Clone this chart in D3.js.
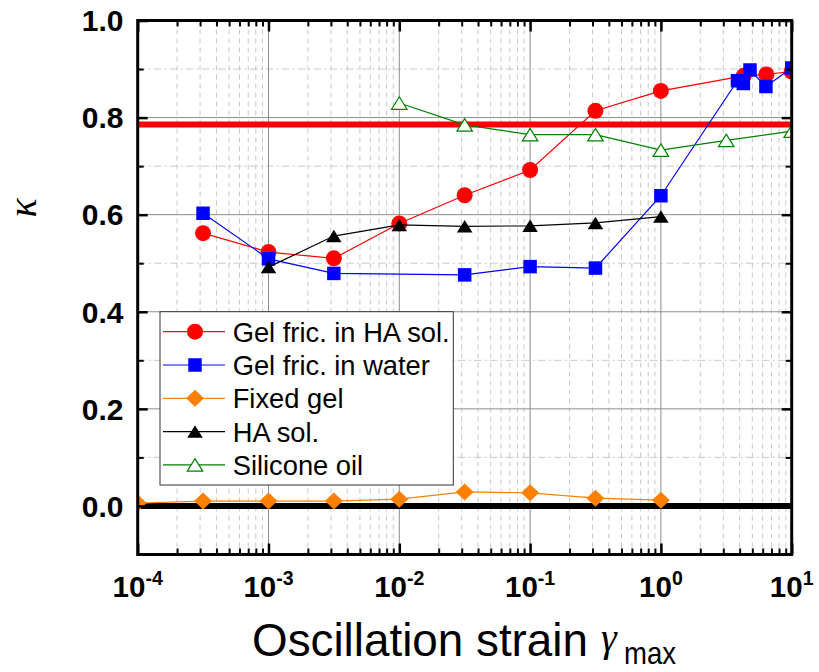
<!DOCTYPE html>
<html><head><meta charset="utf-8">
<script src="https://cdn.jsdelivr.net/npm/d3@7"></script>
<style>body{margin:0;background:#fff}svg{display:block}</style>
</head><body><svg id="c" width="819" height="672"></svg>
<script>
// ---------- data ----------
const xTickValues = [1e-4, 1e-3, 1e-2, 1e-1, 1e0, 1e1];
const xTickExponents = ["-4", "-3", "-2", "-1", "0", "1"];
const yTickValues = [0, 0.2, 0.4, 0.6, 0.8, 1.0];
const yTickLabels = ["0.0", "0.2", "0.4", "0.6", "0.8", "1.0"];

const seriesNames = ["Gel fric. in HA sol.", "Gel fric. in water", "Fixed gel", "HA sol.", "Silicone oil"];

const gelHA_x = [3.16e-4, 1e-3, 3.16e-3, 1e-2, 3.16e-2, 0.1, 0.316, 1, 4.3, 6.4, 10];
const gelHA_y = [0.562, 0.523, 0.510, 0.582, 0.640, 0.692, 0.814, 0.855, 0.886, 0.889, 0.895];

const gelWater_x = [3.16e-4, 1e-3, 3.16e-3, 3.16e-2, 0.1, 0.316, 1, 3.85, 4.27, 4.8, 6.35, 10];
const gelWater_y = [0.603, 0.509, 0.479, 0.476, 0.493, 0.490, 0.639, 0.876, 0.870, 0.898, 0.864, 0.902];

const fixedGel_x = [1e-4, 3.16e-4, 1e-3, 3.16e-3, 1e-2, 3.16e-2, 0.1, 0.316, 1];
const fixedGel_y = [0.006, 0.010, 0.010, 0.010, 0.014, 0.029, 0.027, 0.016, 0.012];

const haSol_x = [1e-3, 3.16e-3, 1e-2, 3.16e-2, 0.1, 0.316, 1];
const haSol_y = [0.492, 0.556, 0.579, 0.576, 0.577, 0.583, 0.596];

const silicone_x = [1e-2, 3.16e-2, 0.1, 0.316, 1, 3.16, 10];
const silicone_y = [0.830, 0.785, 0.765, 0.765, 0.733, 0.753, 0.772];

const refLineRed = 0.786;
const refLineBlack = 0.0;

// ---------- styles ----------
const seriesX = [gelHA_x, gelWater_x, fixedGel_x, haSol_x, silicone_x];
const seriesY = [gelHA_y, gelWater_y, fixedGel_y, haSol_y, silicone_y];
const seriesColors = ["#ff0000", "#0000ff", "#ff8000", "#000000", "#008000"];
const seriesMarkers = ["circle", "square", "diamond", "triangle", "openTriangle"];
const drawOrder = [0, 1, 2, 3, 4];

const svg = d3.select("#c");
const L = 137.7, R = 791.7, T = 20.5, B = 554.5;
const x = d3.scaleLog().domain([1e-4, 10]).range([L, R]);
const y = d3.scaleLinear().domain([-0.1, 1.0]).range([B, T]);

function markerPath(type) {
  if (type === "circle") return d3.symbol(d3.symbolCircle, Math.PI * 8 * 8)();
  if (type === "square") { const a = 13.5; return `M${-a/2},${-a/2}h${a}v${a}h${-a}Z`; }
  if (type === "diamond") { const w = 18, h = 17; return `M0,${-h/2}L${w/2},0L0,${h/2}L${-w/2},0Z`; }
  const w = 15.5, h = 12.5; return `M0,${-h/2}L${w/2},${h/2}L${-w/2},${h/2}Z`;
}

// clip
svg.append("defs").append("clipPath").attr("id", "clip")
  .append("rect").attr("x", L).attr("y", T).attr("width", R - L).attr("height", B - T);

// ---------- grid ----------
const grid = svg.append("g");
const xMinor = [];
for (let e = -4; e < 1; e++) for (let m = 2; m <= 9; m++) xMinor.push(m * Math.pow(10, e));
grid.selectAll(".xm").data(xMinor).enter().append("line")
  .attr("x1", d => x(d)).attr("x2", d => x(d)).attr("y1", T).attr("y2", B)
  .attr("stroke", "#c8c8c8").attr("stroke-width", 1).attr("stroke-dasharray", "5,4");
const yMinor = [0.1, 0.3, 0.5, 0.7, 0.9];
grid.selectAll(".ym").data(yMinor).enter().append("line")
  .attr("x1", L).attr("x2", R).attr("y1", d => y(d)).attr("y2", d => y(d))
  .attr("stroke", "#c8c8c8").attr("stroke-width", 1).attr("stroke-dasharray", "8,3,2,3");
grid.selectAll(".xM").data(xTickValues).enter().append("line")
  .attr("x1", d => x(d)).attr("x2", d => x(d)).attr("y1", T).attr("y2", B)
  .attr("stroke", "#8c8c8c").attr("stroke-width", 1);
grid.selectAll(".yM").data(yTickValues).enter().append("line")
  .attr("x1", L).attr("x2", R).attr("y1", d => y(d)).attr("y2", d => y(d))
  .attr("stroke", "#8c8c8c").attr("stroke-width", 1);

// ---------- reference lines ----------
const plot = svg.append("g").attr("clip-path", "url(#clip)");
plot.append("line").attr("x1", L).attr("x2", R).attr("y1", y(refLineRed)).attr("y2", y(refLineRed))
  .attr("stroke", "#ff0000").attr("stroke-width", 6);
plot.append("line").attr("x1", L).attr("x2", R).attr("y1", y(refLineBlack)).attr("y2", y(refLineBlack))
  .attr("stroke", "#000000").attr("stroke-width", 6);

// ---------- series ----------
drawOrder.forEach(i => {
  const pts = seriesX[i].map((v, k) => [v, seriesY[i][k]]);
  const g = plot.append("g");
  g.append("path").datum(pts)
    .attr("d", d3.line().x(d => x(d[0])).y(d => y(d[1])))
    .attr("fill", "none").attr("stroke", seriesColors[i]).attr("stroke-width", 1.2);
  g.selectAll("path.m").data(pts).enter().append("path").attr("class", "m")
    .attr("transform", d => `translate(${x(d[0])},${y(d[1])})`)
    .attr("d", markerPath(seriesMarkers[i]))
    .attr("fill", seriesMarkers[i] === "openTriangle" ? "#ffffff" : seriesColors[i])
    .attr("stroke", seriesColors[i]).attr("stroke-width", seriesMarkers[i] === "openTriangle" ? 1.2 : 0);
});

// ---------- legend ----------
const F = "'Liberation Sans', Arial, sans-serif";
const lg = svg.append("g");
lg.append("rect").attr("x", 160).attr("y", 311.7).attr("width", 293.3).attr("height", 173.3)
  .attr("fill", "#fff").attr("stroke", "#333").attr("stroke-width", 1);
seriesNames.forEach((name, i) => {
  const cy = 331.7 + i * 33.3;
  lg.append("line").attr("x1", 163).attr("x2", 225).attr("y1", cy).attr("y2", cy)
    .attr("stroke", seriesColors[i]).attr("stroke-width", 1.2);
  lg.append("path").attr("transform", `translate(195,${cy})`).attr("d", markerPath(seriesMarkers[i]))
    .attr("fill", seriesMarkers[i] === "openTriangle" ? "#ffffff" : seriesColors[i])
    .attr("stroke", seriesColors[i]).attr("stroke-width", seriesMarkers[i] === "openTriangle" ? 1.2 : 0);
  lg.append("text").attr("x", 232.7).attr("y", cy + 10).text(name)
    .attr("font-family", F).attr("font-size", 27.3).attr("fill", "#000");
});

// ---------- axes (ticks) ----------
const ax = svg.append("g");
function styleAxis(sel, w) {
  sel.select(".domain").remove();
  sel.selectAll(".tick line").attr("stroke", "#000").attr("stroke-width", w);
  sel.selectAll(".tick text").remove();
}
const yMinorTicks = [-0.1, 0.1, 0.3, 0.5, 0.7, 0.9];
ax.append("g").attr("transform", `translate(0,${B})`)
  .call(d3.axisBottom(x).tickValues(xTickValues).tickSize(-11).tickFormat("")).call(s => styleAxis(s, 2.5));
ax.append("g").attr("transform", `translate(0,${B})`)
  .call(d3.axisBottom(x).tickValues(xMinor).tickSize(-6).tickFormat("")).call(s => styleAxis(s, 2));
ax.append("g").attr("transform", `translate(0,${T})`)
  .call(d3.axisTop(x).tickValues(xTickValues).tickSize(-11).tickFormat("")).call(s => styleAxis(s, 2.5));
ax.append("g").attr("transform", `translate(0,${T})`)
  .call(d3.axisTop(x).tickValues(xMinor).tickSize(-6).tickFormat("")).call(s => styleAxis(s, 2));
ax.append("g").attr("transform", `translate(${L},0)`)
  .call(d3.axisLeft(y).tickValues(yTickValues).tickSize(-10).tickFormat("")).call(s => styleAxis(s, 2.5));
ax.append("g").attr("transform", `translate(${L},0)`)
  .call(d3.axisLeft(y).tickValues(yMinorTicks).tickSize(-6).tickFormat("")).call(s => styleAxis(s, 2));
ax.append("g").attr("transform", `translate(${R},0)`)
  .call(d3.axisRight(y).tickValues(yTickValues).tickSize(-10).tickFormat("")).call(s => styleAxis(s, 2.5));
ax.append("g").attr("transform", `translate(${R},0)`)
  .call(d3.axisRight(y).tickValues(yMinorTicks).tickSize(-6).tickFormat("")).call(s => styleAxis(s, 2));
ax.append("rect").attr("x", L).attr("y", T).attr("width", R - L).attr("height", B - T)
  .attr("fill", "none").attr("stroke", "#000").attr("stroke-width", 3);

// ---------- tick labels ----------
yTickValues.forEach((v, i) => {
  svg.append("text").attr("x", 123.5).attr("y", y(v) + 10.8).attr("text-anchor", "end")
    .attr("font-family", F).attr("font-weight", "bold").attr("font-size", 30).text(yTickLabels[i]);
});
xTickValues.forEach((v, i) => {
  const t = svg.append("text").attr("x", x(v)).attr("y", 597).attr("text-anchor", "middle")
    .attr("font-family", F).attr("font-weight", "bold").attr("font-size", 29.5);
  t.append("tspan").text("10");
  t.append("tspan").attr("dy", -12).attr("font-size", 19.5).text(xTickExponents[i]);
});

// ---------- axis titles ----------
svg.append("text").attr("x", 252).attr("y", 656).attr("font-family", F).attr("font-size", 47)
  .attr("textLength", 336).attr("lengthAdjust", "spacingAndGlyphs")
  .text("Oscillation strain");
svg.append("text").attr("x", 601).attr("y", 651).attr("font-family", "'Liberation Serif', 'Times New Roman', serif")
  .attr("font-style", "italic").attr("font-size", 40).text("γ");
svg.append("text").attr("x", 624).attr("y", 664).attr("font-family", F).attr("font-size", 32)
  .attr("textLength", 52).attr("lengthAdjust", "spacingAndGlyphs").text("max");
svg.append("text").attr("transform", "translate(36,208) rotate(-90)").attr("text-anchor", "middle")
  .attr("font-family", "'Liberation Serif', 'Times New Roman', serif").attr("font-style", "italic")
  .attr("font-size", 40).text("κ");
</script></body></html>
